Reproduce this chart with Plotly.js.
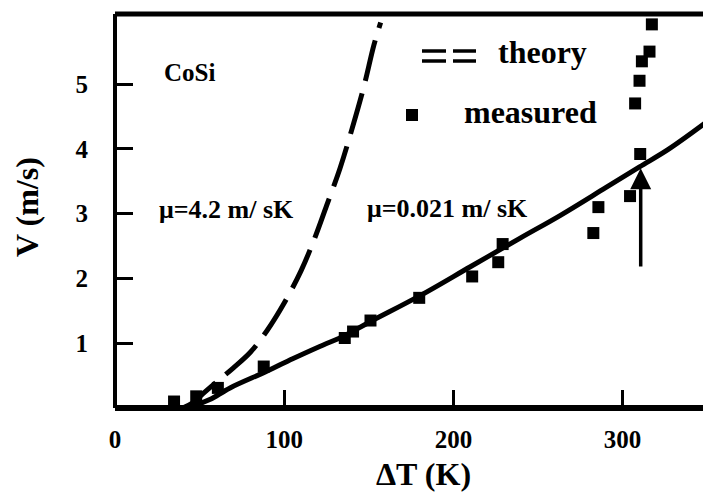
<!DOCTYPE html>
<html><head><meta charset="utf-8">
<script src="https://cdn.plot.ly/plotly-3.0.1.min.js"></script>
<style>html,body{margin:0;padding:0;background:#fff;}</style>
</head><body><div id="chart" style="width:703px;height:498px"></div>
<script>
// measured velocity vs undercooling
const measuredT = [34.9, 48, 60.8, 87.9, 135.8, 140.7, 151, 179.8, 211.1, 226.5, 229.1, 282.7, 285.7, 304.4, 310.4, 307.4, 310, 311.4, 315.9, 317.3];
const measuredV = [0.10, 0.18, 0.31, 0.64, 1.08, 1.18, 1.35, 1.70, 2.03, 2.25, 2.53, 2.70, 3.10, 3.27, 3.92, 4.70, 5.05, 5.35, 5.50, 5.92];
// theory, mu = 0.021 m/sK (solid)
const theoryLowT = [15, 40, 48, 56, 68, 90, 105, 121, 136, 150, 180, 210, 240, 263, 290, 310, 327, 350];
const theoryLowV = [0, 0.0, 0.05, 0.13, 0.31, 0.57, 0.76, 0.95, 1.12, 1.32, 1.73, 2.18, 2.63, 2.97, 3.40, 3.72, 3.99, 4.42];
// theory, mu = 4.2 m/sK (dashed)
const theoryHighT = [40, 46, 52, 60, 70, 80, 90, 100, 110, 118, 125, 133, 140, 147, 153, 157];
const theoryHighV = [0, 0.08, 0.22, 0.40, 0.62, 0.86, 1.20, 1.62, 2.12, 2.62, 3.12, 3.70, 4.30, 4.95, 5.60, 5.95];
// arrow marking the transition
const arrowT = 310.7, arrowFromV = 2.16, arrowToV = 3.70;
const xTickVals = [0, 100, 200, 300];
const xTickText = ['0', '100', '200', '300'];
const yTickVals = [1, 2, 3, 4, 5];
const yTickText = ['1', '2', '3', '4', '5'];

const L = 115, R = 0, T = 14, B = 90, W = 703, H = 498;
const PW = W - L - R, PH = H - T - B;
const px = x => (x - L) / PW;
const py = y => (H - B - y) / PH;
const bold = (size) => ({family: 'Liberation Serif', size: size, weight: 'bold'});

const traces = [
  {x: theoryHighT, y: theoryHighV, mode: 'lines', line: {color: '#000', width: 5, dash: '42px,13px', shape: 'spline', smoothing: 1}, hoverinfo: 'skip'},
  {x: theoryLowT, y: theoryLowV, mode: 'lines', line: {color: '#000', width: 5, shape: 'spline', smoothing: 1}, hoverinfo: 'skip'},
  {x: measuredT, y: measuredV, mode: 'markers', marker: {symbol: 'square', size: 12, color: '#000'}, hoverinfo: 'skip'}
];

const ann = (text, x, y, size, extra) => Object.assign({
  text: text, xref: 'paper', yref: 'paper', x: px(x), y: py(y),
  xanchor: 'center', yanchor: 'middle', showarrow: false, font: bold(size)
}, extra || {});

const layout = {
  width: W, height: H,
  margin: {l: L, r: R, t: T, b: B, pad: 0},
  paper_bgcolor: '#fff', plot_bgcolor: '#fff',
  font: {family: 'Liberation Serif', size: 25, weight: 'bold', color: '#000'},
  showlegend: false,
  xaxis: {
    range: [0, PW / 1.692], showgrid: false, zeroline: false, showline: false,
    ticks: 'inside', ticklen: 18, tickwidth: 3, tickcolor: '#000',
    tickvals: xTickVals, ticktext: xTickText, tickfont: bold(25), ticklabelstandoff: 14
  },
  yaxis: {
    range: [0, PH / 64.8], showgrid: false, zeroline: false, showline: false,
    ticks: 'inside', ticklen: 18, tickwidth: 3, tickcolor: '#000',
    tickvals: yTickVals, ticktext: yTickText, tickfont: bold(25), ticklabelstandoff: 26
  },
  shapes: [
    {type: 'line', xref: 'paper', yref: 'paper', x0: 0, x1: 0, y0: 0, y1: 1, line: {color: '#000', width: 4}},
    {type: 'line', xref: 'paper', yref: 'paper', x0: 0, x1: 1, y0: 0, y1: 0, line: {color: '#000', width: 6}},
    {type: 'line', xref: 'paper', yref: 'paper', x0: 0, x1: 1, y0: 1, y1: 1, line: {color: '#000', width: 5}},
    // legend dash sample (theory)
    {type: 'line', xref: 'paper', yref: 'paper', x0: px(422), x1: px(446), y0: py(51), y1: py(51), line: {color: '#000', width: 3.5}},
    {type: 'line', xref: 'paper', yref: 'paper', x0: px(453), x1: px(476), y0: py(51), y1: py(51), line: {color: '#000', width: 3.5}},
    {type: 'line', xref: 'paper', yref: 'paper', x0: px(422), x1: px(446), y0: py(61), y1: py(61), line: {color: '#000', width: 3.5}},
    {type: 'line', xref: 'paper', yref: 'paper', x0: px(453), x1: px(476), y0: py(61), y1: py(61), line: {color: '#000', width: 3.5}},
    // legend marker (measured)
    {type: 'rect', xref: 'paper', yref: 'paper', x0: px(406), x1: px(418), y0: py(109), y1: py(121), line: {width: 0}, fillcolor: '#000'}
  ],
  annotations: [
    ann('CoSi', 189, 72, 25),
    ann('\u03bc=4.2 m/ sK', 226, 209, 26),
    ann('\u03bc=0.021 m/ sK', 447, 208, 26),
    ann('theory', 542, 52, 32),
    ann('measured', 530, 112, 32),
    ann('\u0394T (K)', 423, 474, 32),
    ann('V (m/s)', 27, 207, 32, {textangle: -90}),
    {x: arrowT, y: arrowToV, ax: arrowT, ay: arrowFromV, xref: 'x', yref: 'y', axref: 'x', ayref: 'y',
     text: '', showarrow: true, arrowhead: 2, arrowsize: 1.2, arrowwidth: 3.5, arrowcolor: '#000'}
  ]
};

Plotly.newPlot('chart', traces, layout, {displayModeBar: false}).then(() => {
  document.querySelectorAll('#chart text').forEach(t => { t.style.setProperty('font-family', 'Liberation Serif', 'important'); });
});
</script>
</body></html>
